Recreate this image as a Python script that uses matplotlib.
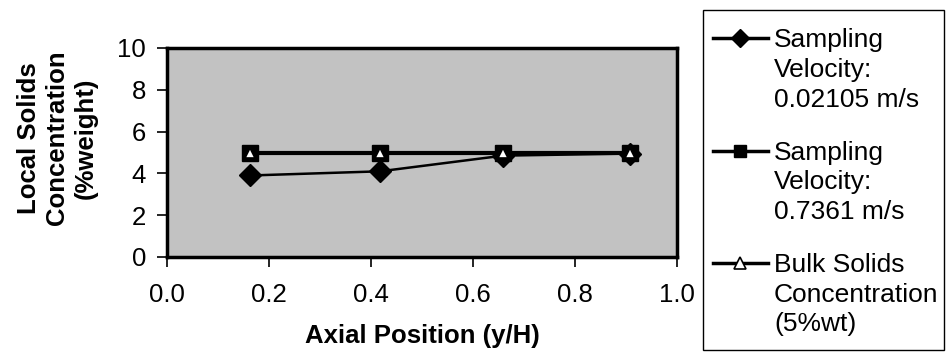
import matplotlib
matplotlib.use("Agg")
import matplotlib.pyplot as plt
from matplotlib.lines import Line2D
from matplotlib.patches import Rectangle

plt.rcParams["font.family"] = ["Liberation Sans", "DejaVu Sans"]

# data
axial_pos = [0.163, 0.418, 0.659, 0.908]
conc_low_vel = [3.9, 4.1, 4.85, 4.95]
conc_high_vel = [5.0, 5.0, 5.0, 5.0]
conc_bulk = [5.0, 5.0, 5.0, 5.0]

labels = [
    "Sampling\nVelocity:\n0.02105 m/s",
    "Sampling\nVelocity:\n0.7361 m/s",
    "Bulk Solids\nConcentration\n(5%wt)",
]

W, H = 947, 353
fig = plt.figure(figsize=(W / 100, H / 100), dpi=100)
ax = fig.add_axes([167 / W, 96 / H, 510 / W, 209 / H])
ax.set_facecolor("#c2c2c2")

ax.plot(axial_pos, conc_low_vel, color="black", lw=1.8, marker="D",
        markersize=11, markerfacecolor="black", zorder=3)
ax.plot(axial_pos, conc_high_vel, color="black", lw=3, marker="s",
        markersize=11, markerfacecolor="black", zorder=4)
ax.plot(axial_pos, conc_bulk, color="black", lw=1.5, marker="^",
        markersize=7, markerfacecolor="white", markeredgewidth=1.2, zorder=5)

ax.set_xlim(0, 1)
ax.set_ylim(0, 10)
ax.set_xticks([0.0, 0.2, 0.4, 0.6, 0.8, 1.0])
ax.set_xticklabels(["0.0", "0.2", "0.4", "0.6", "0.8", "1.0"])
ax.set_yticks([0, 2, 4, 6, 8, 10])
for s in ax.spines.values():
    s.set_linewidth(2.5)
ax.tick_params(direction="out", length=7, width=1.2, labelsize=18.5, pad=12)
ax.tick_params(axis="y", pad=8)

ax.set_xlabel("Axial Position (y/H)", fontsize=18.5, fontweight="bold", labelpad=12)
ax.set_ylabel("Local Solids\nConcentration\n(%weight)", fontsize=18.5,
              fontweight="bold", linespacing=1.25, va="center", ha="center")
ax.yaxis.set_label_coords(-0.215, 0.57)

# legend drawn by hand so the marker sits on the first text line
fig.add_artist(Rectangle((703 / W, 1 - 350 / H), 241 / W, 340 / H,
                         transform=fig.transFigure, facecolor="white",
                         edgecolor="black", lw=1.0))
handle_styles = [
    dict(marker="D", markersize=9, markerfacecolor="black"),
    dict(marker="s", markersize=9, markerfacecolor="black"),
    dict(marker="^", markersize=8, markerfacecolor="white", markeredgewidth=1.2),
]
first_rows = [38, 150.5, 263]
row_step = 29.5
for lab, style, y0 in zip(labels, handle_styles, first_rows):
    yf = 1 - y0 / H
    fig.add_artist(Line2D([713 / W, 768 / W], [yf, yf], transform=fig.transFigure,
                          color="black", lw=2.5))
    fig.add_artist(Line2D([740 / W], [yf], transform=fig.transFigure,
                          color="black", lw=0, **style))
    for i, line in enumerate(lab.split("\n")):
        fig.text(774 / W, 1 - (y0 + i * row_step) / H, line, fontsize=19,
                 ha="left", va="center_baseline")

fig.savefig("out.png", dpi=100)
